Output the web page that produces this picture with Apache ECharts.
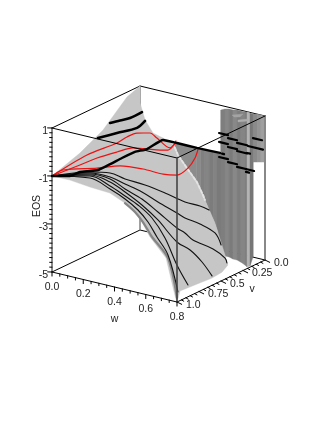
<!DOCTYPE html>
<html><head><meta charset="utf-8">
<style>html,body{margin:0;padding:0;background:#fff}#c{width:327px;height:423px}</style>
<script src="https://cdn.jsdelivr.net/npm/echarts@6/dist/echarts.min.js"></script>
</head><body><div id="c"></div>
<script>
// All marks are rows of [w, v, EOS].
const wTicks=[0,0.2,0.4,0.6,0.8];
const wTickLabels=['0.0','0.2','0.4','0.6','0.8'];
const vTicks=[1,0.75,0.5,0.25,0];
const vTickLabels=['1.0','0.75','0.5','0.25','0.0'];
const eosTicks=[1,-1,-3,-5];
const eosTickLabels=['1','-1','-3','-5'];
const eosMinor=[0.8,0.6,0.4,0.2,0,-0.2,-0.4,-0.6,-0.8,-1.2,-1.4,-1.6,-1.8,-2,-2.2,-2.4,-2.6,-2.8,-3.2,-3.4,-3.6,-3.8,-4,-4.2,-4.4,-4.6,-4.8];
const wMinor=[0.05,0.1,0.15,0.25,0.3,0.35,0.45,0.5,0.55,0.65,0.7,0.75];
const vMinor=[0.95,0.9,0.85,0.8,0.7,0.65,0.6,0.55,0.45,0.4,0.35,0.3,0.2,0.15,0.1,0.05];

const surface=[[0,1,-1],[0,0.682,-0.6],[0,0.42,-0.1],[0,0.148,0.8],[0,0,1],[0.1,0.177,0.76],[0.1,0.12,-0.05],[0.1,0.03,-0.75],
 [0.473,0.578,0.58],[0.515,0.54,0.375],[0.536,0.521,-0.125],[0.575,0.487,-0.67],[0.617,0.449,-1.25],[0.643,0.426,-1.79],[0.651,0.418,-2],[0.694,0.38,-2.96],[0.737,0.342,-4.29],[0.749,0.331,-4.71],
 [0.8,0.489,-4.65],[0.8,0.602,-4.7],[0.8,0.966,-4.6],[0.8,1,-5],[0.79,1,-4.83],[0.73,1,-3.28],[0.625,1,-2.54],[0.575,1,-2.01],[0.527,1,-1.67],[0.467,1,-1.4],[0.371,1,-1.13],[0.243,1,-1.08],[0.115,1,-0.99]];
const surfaceEdgeV1=[[0.467,1,-1.4],[0.531,1,-1.67],[0.582,1,-2.01],[0.64,1,-2.54],[0.742,1,-3.26],[0.8,1,-4.83]];
const ridge=[[0.515,0.54,0.375],[0.536,0.521,-0.125],[0.575,0.487,-0.67],[0.617,0.449,-1.25],[0.643,0.426,-1.79],[0.651,0.418,-2]];
const wedge=[[0.515,0.54,0.375],[0.617,0.449,0.17],[0.617,0.449,-1.25],[0.575,0.487,-0.67],[0.536,0.521,-0.125]];

// wall columns: [w, v, EOS top, EOS bottom]
const wall=[[0.617,0.449,0.17,-1.25],[0.634,0.434,0.125,-1.63],[0.651,0.418,0.08,-2],[0.669,0.403,0.04,-2.42],[0.686,0.388,0,-2.79],[0.703,0.373,-0.04,-3.21],[0.72,0.357,-0.08,-4.04],
 [0.518,0,0.81,-4.98],[0.544,0,0.89,-5.23],[0.57,0,0.93,-5.23],[0.595,0,0.93,-5.28],[0.621,0,0.97,-5.28],[0.646,0,0.97,-5.33],[0.672,0,0.97,-5.41],[0.685,0,0.99,-5.47],[0.704,0,0.97,-5.4],[0.723,0,0.96,-5],
 [0.723,0,0.96,-1.04],[0.749,0,1,-1],[0.774,0,1,-0.96],[0.794,0,0.99,-0.93]];
const wallShades=['#8a8a8a','#808080','#858585','#7c7c7c','#838383','#7a7a7a','#808080','#7e7e7e','#868686','#7b7b7b','#888888','#7d7d7d','#858585','#7f7f7f','#b4b4b4','#777777','#777777','#8a8a8a','#949494','#a0a0a0'];
const wallCapA=[[0.589,0,0.71],[0.659,0,0.86],[0.64,0,0.71],[0.602,0,0.65]];
const wallCapB=[[0.627,0,0.56],[0.691,0,0.7],[0.691,0,0.62],[0.627,0,0.48]];

const blackA=[[0,1,-1],[0.162,0.856,-0.83],[0.247,0.779,-0.875],[0.311,0.722,-1.125],[0.396,0.646,-1.375],[0.481,0.57,-1.708],[0.566,0.494,-2.083],[0.63,0.437,-2.25],[0.669,0.403,-2.42]];
const blackB=[[0,1,-1],[0.162,0.856,-0.875],[0.247,0.779,-1.04],[0.311,0.722,-1.333],[0.383,0.658,-1.667],[0.451,0.597,-2.083],[0.532,0.525,-2.542],[0.566,0.494,-2.75],[0.63,0.437,-3],[0.694,0.38,-3.375],[0.72,0.357,-3.875]];
const blackC=[[0,1,-1],[0.162,0.856,-0.917],[0.247,0.779,-1.125],[0.311,0.722,-1.542],[0.383,0.658,-1.958],[0.451,0.597,-2.5],[0.532,0.525,-3.167],[0.566,0.494,-3.375],[0.6,0.464,-3.667],[0.686,0.388,-4.04],[0.737,0.342,-4.42],[0.745,0.335,-4.625]];
const blackD=[[0,1,-1],[0.162,0.856,-0.958],[0.247,0.779,-1.25],[0.311,0.722,-1.667],[0.383,0.658,-2.208],[0.451,0.597,-2.833],[0.532,0.525,-3.75],[0.588,0.475,-4.083],[0.639,0.43,-4.583],[0.8,0.602,-4.61]];
const blackE=[[0,1,-1],[0.162,0.856,-1],[0.247,0.779,-1.417],[0.311,0.722,-1.833],[0.366,0.673,-2.208],[0.426,0.62,-2.75],[0.481,0.57,-3.583],[0.532,0.525,-4.708],[0.8,0.875,-4.51]];
const blackF=[[0,1,-1],[0.162,0.856,-1.083],[0.247,0.779,-1.542],[0.311,0.722,-1.958],[0.366,0.673,-2.417],[0.409,0.635,-2.917],[0.447,0.601,-3.542],[0.494,0.559,-4.29],[0.8,0.989,-4.6]];

const redA=[[0,1,-1],[0.149,0.867,-0.125],[0.277,0.753,0.375],[0.319,0.715,0.625],[0.362,0.677,0.79],[0.417,0.627,0.79],[0.447,0.601,0.58],[0.502,0.551,0.17],[0.524,0.532,0.375]];
const redB=[[0,1,-1],[0.119,0.894,-0.54],[0.192,0.829,-0.25],[0.277,0.753,0],[0.345,0.692,0.17],[0.405,0.639,0.125],[0.46,0.589,0.08],[0.494,0.559,0.08],[0.519,0.536,0.29],[0.528,0.529,0.46]];
const redC=[[0,1,-1],[0.047,0.958,-0.75],[0.192,0.829,-0.67],[0.29,0.741,-0.58],[0.387,0.654,-0.71],[0.473,0.578,-0.92],[0.532,0.525,-0.96],[0.579,0.483,-0.67],[0.609,0.456,-0.25],[0.622,0.445,0.125]];

const thickRidge=[[0,1,-1],[0.077,0.932,-1.0],[0.119,0.894,-0.83],[0.196,0.825,-0.75],[0.298,0.734,-0.25],[0.353,0.684,0],[0.405,0.639,0.125],[0.473,0.578,0.5],[0.532,0.525,0.375],[0.617,0.449,0.17],[0.715,0.361,-0.04]];
const thickArcA=[[0.1,0.518,0.52],[0.1,0.405,0.43],[0.1,0.291,0.33],[0.1,0.155,0.34]];
const thickArcB=[[0.1,0.655,0.135],[0.1,0.439,-0.035],[0.1,0.211,-0.22],[0.1,0.12,-0.09]];
// short thick dashes: [w start, w end, EOS] at v = 0
const dashes=[[0.506,0.563,-0.17],[0.506,0.563,-0.54],[0.563,0.621,-0.29],[0.563,0.621,-0.66],[0.621,0.685,-0.4],[0.621,0.685,-0.74],[0.723,0.781,-0.04],[0.691,0.787,-0.42],[0.685,0.704,-0.72],[0.506,0.563,-1.17],[0.563,0.621,-1.29],[0.621,0.678,-1.4],[0.678,0.73,-1.4],[0.678,0.698,-1.52],[0.525,0.538,-1]];

// linear view of the (w, v, EOS) box onto the page
function project(r){const s=1-r[1];return [52+156.25*r[0]+88*s,272+37.5*r[0]-42*s-24*(r[2]+5)];}

const series=[];
function line(rows,color,width,z,smooth,dash){
 series.push({type:'line',data:rows.map(project),showSymbol:false,silent:true,clip:false,z:z,smooth:smooth||false,
  lineStyle:{color:color,width:width,type:dash||'solid',cap:'round',join:'round'},animation:false});
}
function poly(list,colors,z){
 series.push({type:'custom',coordinateSystem:'cartesian2d',silent:true,clip:false,z:z,animation:false,
  data:list.map((_,i)=>[i,0]),
  renderItem:(p,api)=>({type:'polygon',shape:{points:list[p.dataIndex].map(r=>api.coord(project(r)))},
    style:{fill:colors[p.dataIndex%colors.length],stroke:colors[p.dataIndex%colors.length],lineWidth:0.4}})});
}
function texts(items,z){ // items: {at:[w,v,e],dx,dy,text,align,rot}
 series.push({type:'custom',coordinateSystem:'cartesian2d',silent:true,clip:false,z:z,animation:false,
  data:items.map((_,i)=>[i,0]),
  renderItem:(p,api)=>{const it=items[p.dataIndex];const c=api.coord(project(it.at));
   return {type:'text',x:c[0]+it.dx,y:c[1]+it.dy,rotation:it.rot||0,
    style:{text:it.text,fill:'#222',font:'10.5px "Liberation Sans"',align:it.align||'center',verticalAlign:'middle'}};}});
}

// box, back part
line([[0,1,1],[0,0,1],[0.8,0,1]],'#000',1,1);
line([[0,1,-5],[0,0,-5],[0.8,0,-5]],'#000',1,1);
line([[0,0,-5],[0,0,1]],'#777',1.4,1);

// wall and surface
const strips=[];for(let i=0;i<wall.length-1;i++){const a=wall[i],b=wall[i+1];
 strips.push([[a[0],a[1],a[2]],[b[0],b[1],b[2]],[b[0],b[1],b[3]],[a[0],a[1],a[3]]]);}
poly(strips,wallShades,2);
poly([wedge],['#8c8c8c'],2);
poly([wallCapA,wallCapB],['#a4a4a4','#aeaeae'],3);
poly([surface],['#c6c6c6'],4);
line(ridge,'#e4e4e4',2,5,0,[3,2]);
line(surfaceEdgeV1,'#858585',2.2,5,0.3);

// curves
[blackA,blackB,blackC,blackD,blackE,blackF].forEach(c=>line(c,'#111',1.1,6,0.35));
[redA,redB,redC].forEach(c=>line(c,'#ee1111',1.2,7,0.3));
line(thickRidge,'#000',2.4,8,0.15);
line(thickArcA,'#000',2.6,8,0.3);
line(thickArcB,'#000',2.6,8,0.3);
dashes.forEach(d=>line([[d[0],0,d[2]],[d[1],0,d[2]]],'#000',2.2,8));

// box, front part
line([[0,1,1],[0.8,1,1],[0.8,0,1]],'#000',1,9);
line([[0,1,-5],[0.8,1,-5],[0.8,0,-5]],'#000',1,9);
line([[0.8,1,-5],[0.8,1,1]],'#444',1.6,9);
line([[0,1,-5],[0,1,1]],'#111',1,9);
line([[0.8,0,-5],[0.8,0,1]],'#888',2,3);

// ticks
wTicks.forEach(w=>line([[w,1,-5],[w,1,-5.17]],'#000',1,9));
wMinor.forEach(w=>line([[w,1,-5],[w,1,-5.1]],'#000',1,9));
vTicks.forEach(v=>line([[0.8,v,-5],[0.83,v,-5.05]],'#000',1,9));
vMinor.forEach(v=>line([[0.8,v,-5],[0.815,v,-5.03]],'#000',1,9));
eosTicks.forEach(e=>line([[0,1,e],[-0.028,1,e-0.04]],'#000',1,9));
eosMinor.forEach(e=>line([[0,1,e],[-0.015,1,e-0.02]],'#000',1,9));

// text
const labels=[];
wTicks.forEach((w,i)=>labels.push({at:[w,1,-5],dx:0,dy:15,text:wTickLabels[i]}));
vTicks.forEach((v,i)=>labels.push({at:[0.8,v,-5],dx:9,dy:3,text:vTickLabels[i],align:'left'}));
eosTicks.forEach((e,i)=>labels.push({at:[0,1,e],dx:-4,dy:3,text:eosTickLabels[i],align:'right'}));
labels.push({at:[0.4,1,-5],dx:0,dy:32,text:'w'});
labels.push({at:[0.8,0.5,-5],dx:31,dy:8,text:'v'});
labels.push({at:[0,1,-2],dx:-15,dy:6,text:'EOS',rot:Math.PI/2});
texts(labels,10);

const chart=echarts.init(document.getElementById('c'),null,{renderer:'canvas'});
chart.setOption({animation:false,backgroundColor:'#fff',
 grid:{left:0,right:0,top:0,bottom:0},
 xAxis:{type:'value',min:0,max:327,show:false},
 yAxis:{type:'value',min:0,max:423,inverse:true,show:false},
 tooltip:{show:false},
 series:series});
</script></body></html>
